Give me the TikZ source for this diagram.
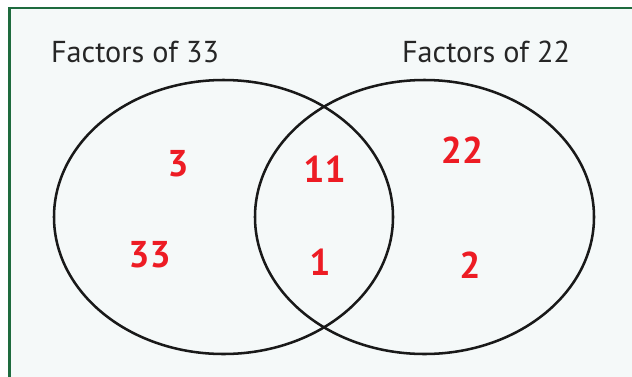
\documentclass[tikz,border=0pt]{standalone}
\usepackage{fontspec}
\setmainfont{PT Sans}
\usetikzlibrary{positioning}
\definecolor{framegreen}{HTML}{1E6B3E}
\definecolor{paper}{HTML}{F5F9F9}
\definecolor{numred}{HTML}{ED1C24}
\tikzset{
  heading/.style={font=\fontsize{21.5}{24}\selectfont, text=black!85, inner sep=0pt},
  factor/.style={font=\fontsize{26.5}{30}\selectfont\bfseries, text=numred, inner sep=0pt},
  setline/.style={line width=1.8pt, black!90}
}

\begin{document}
\begin{tikzpicture}[x=0.025cm, y=-0.025cm]
    \useasboundingbox (0,0) rectangle (632,376);
    \clip (0,0) rectangle (632,376);
    \draw[framegreen, line width=1.5pt, fill=paper] (9.5,8) rectangle (660,400);
    % the two sets
    \draw[setline] (223.5,217) ellipse [x radius=169.5, y radius=137];
    \draw[setline] (424.5,217) ellipse [x radius=169.5, y radius=137];
    \node[heading] (h33) at (135,52) {Factors of 33};
    \node[heading] (h22) at (486,52) {Factors of 22};
    % members
    \node[factor] (f3) at (178,164) {3};
    \node[factor] (f33) at (149.5,254.5) {33};
    \node[factor] (f11) at (324.5,169.5) {11};
    \node[factor] (f1) at (320,262.5) {1};
    \node[factor] (f22) at (462,150) {22};
    \node[factor] (f2) at (470,265) {2};
\end{tikzpicture}
\end{document}
